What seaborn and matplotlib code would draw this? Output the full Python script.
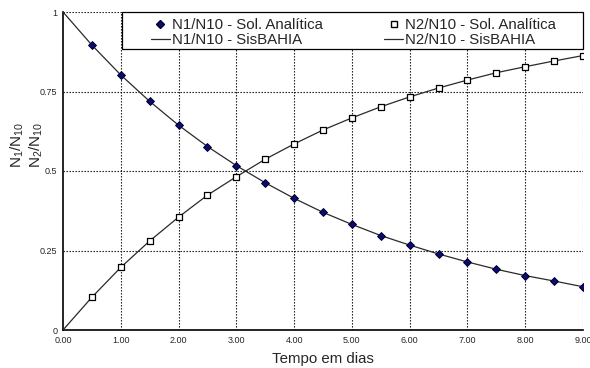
import matplotlib
matplotlib.use("Agg")
import matplotlib.pyplot as plt
import seaborn as sns
import pandas as pd
from matplotlib.lines import Line2D
from matplotlib.patches import Rectangle

t_pts = [0.5, 1.0, 1.5, 2.0, 2.5, 3.0, 3.5, 4.0, 4.5, 5.0, 5.5, 6.0, 6.5, 7.0, 7.5, 8.0, 8.5, 9.0]
n1_analitica = [0.896, 0.802, 0.719, 0.644, 0.577, 0.517, 0.463, 0.414, 0.370, 0.332,
                0.297, 0.267, 0.239, 0.214, 0.191, 0.171, 0.154, 0.136]
n2_analitica = [0.103, 0.197, 0.280, 0.355, 0.424, 0.482, 0.537, 0.585, 0.629, 0.667,
                0.702, 0.733, 0.761, 0.786, 0.809, 0.828, 0.846, 0.863]
t_line = [0.0] + t_pts
n1_sisbahia = [1.0] + n1_analitica
n2_sisbahia = [0.0] + n2_analitica

x_ticks = [0, 1, 2, 3, 4, 5, 6, 7, 8, 9]
x_ticklabels = ["0.00", "1.00", "2.00", "3.00", "4.00", "5.00", "6.00", "7.00", "8.00", "9.00"]
y_ticks = [0, 0.25, 0.5, 0.75, 1]
y_ticklabels = ["0", "0.25", "0.5", "0.75", "1"]

sns.set_style("white")
plt.rcParams['font.family'] = ['Liberation Sans', 'DejaVu Sans']

W, H = 590, 368
fig = plt.figure(figsize=(W/100, H/100), dpi=100)
L, R, T, B = 63, 583, 12, 330
ax = fig.add_axes([L/W, 1 - B/H, (R-L)/W, (B-T)/H])

pts = pd.DataFrame({"t": t_pts, "n1": n1_analitica, "n2": n2_analitica})
lin = pd.DataFrame({"t": t_line, "n1": n1_sisbahia, "n2": n2_sisbahia})

line_col = "#2a2a2a"
sns.lineplot(data=lin, x="t", y="n1", ax=ax, color=line_col, lw=0.9, zorder=3)
sns.lineplot(data=lin, x="t", y="n2", ax=ax, color=line_col, lw=0.9, zorder=3)
sns.scatterplot(data=pts, x="t", y="n1", ax=ax, marker="D", s=16, color="#0b0b70",
                edgecolor="#000030", linewidth=0.7, zorder=4)
sns.scatterplot(data=pts, x="t", y="n2", ax=ax, marker="s", s=19, color="white",
                edgecolor="black", linewidth=0.9, zorder=4)

ax.set_xlim(0, 9)
ax.set_ylim(0, 1)
ax.set_xticks(x_ticks)
ax.set_xticklabels(x_ticklabels, fontsize=6.5)
ax.set_yticks(y_ticks)
ax.set_yticklabels(y_ticklabels, fontsize=6.5)
ax.tick_params(axis="both", length=0, pad=4)

for x in x_ticks[1:]:
    ax.axvline(x, color="black", lw=0.8, ls=(0, (1.2, 1.5)), zorder=1)
for y in y_ticks[1:]:
    ax.axhline(y, color="black", lw=0.8, ls=(0, (1.2, 1.5)), zorder=1)

for s in ["top", "right"]:
    ax.spines[s].set_visible(False)
for s in ["left", "bottom"]:
    ax.spines[s].set_color("black")
    ax.spines[s].set_linewidth(1.2)

ax.set_xlabel("Tempo em dias", fontsize=10.8, labelpad=5)
ax.set_ylabel(r"$\mathregular{N_1/N_{10}}$" + "\n" + r"$\mathregular{N_2/N_{10}}$",
              fontsize=11, linespacing=1.15)
ax.yaxis.set_label_coords((45 - L) / (R - L), (B - 145) / (B - T))

# legend box
box = Rectangle((122/W, 1 - 49/H), (583-122)/W, (49-12)/H, transform=fig.transFigure,
                facecolor="white", edgecolor="black", lw=0.9, zorder=10)
fig.add_artist(box)

handles = [
    Line2D([], [], marker="D", ls="none", color="#0b0b70", markeredgecolor="#000030", markersize=4),
    Line2D([], [], color=line_col, lw=0.9),
    Line2D([], [], marker="s", ls="none", color="white", markeredgecolor="black", markersize=4.5),
    Line2D([], [], color=line_col, lw=0.9),
]
labels = ["N1/N10 - Sol. Analítica", "N1/N10 - SisBAHIA",
          "N2/N10 - Sol. Analítica", "N2/N10 - SisBAHIA"]
x0, x1 = 151, 556
leg = fig.legend(handles, labels, ncol=2, loc="upper left",
                 bbox_to_anchor=(x0/W, 1 - 18/H, (x1-x0)/W, 0), mode="expand",
                 fontsize=10.8, frameon=False,
                 borderpad=0, labelspacing=0.1, handlelength=1.25, handletextpad=0.15,
                 columnspacing=1.0, borderaxespad=0)
leg.set_zorder(11)

fig.savefig("out.png", dpi=100)
